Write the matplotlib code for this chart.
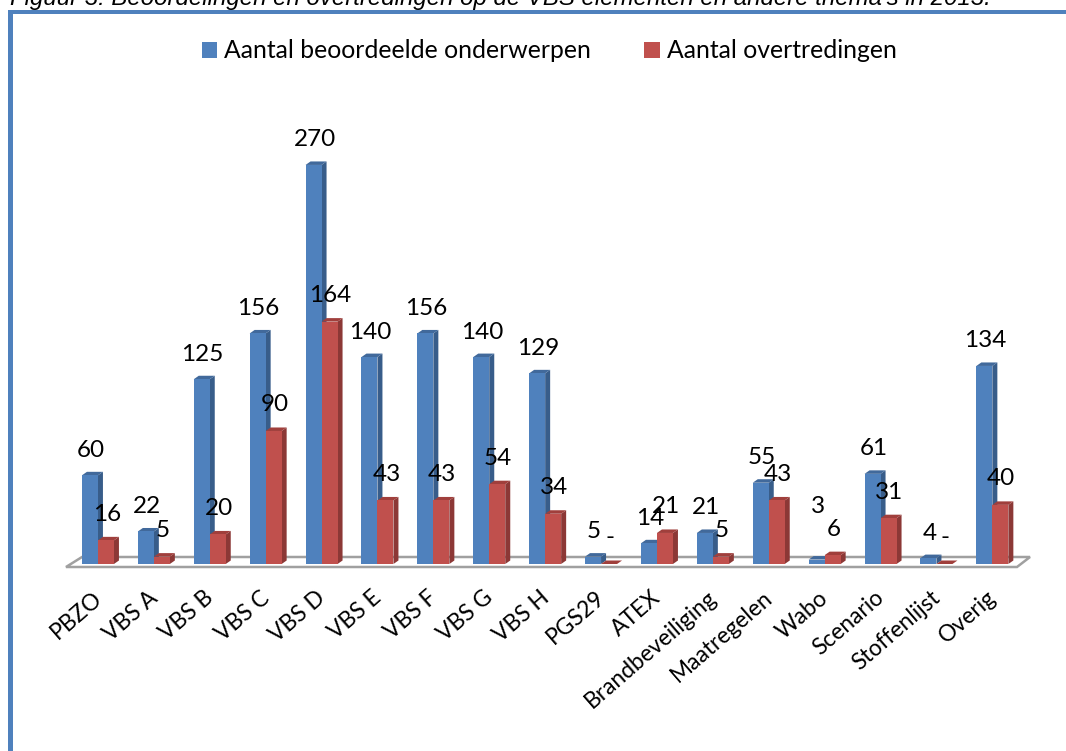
import matplotlib
matplotlib.use("Agg")
import matplotlib.pyplot as plt
from matplotlib.patches import Polygon, Rectangle

categories = ["PBZO", "VBS A", "VBS B", "VBS C", "VBS D", "VBS E", "VBS F", "VBS G", "VBS H",
              "PGS29", "ATEX", "Brandbeveiliging", "Maatregelen", "Wabo", "Scenario",
              "Stoffenlijst", "Overig"]
beoordeeld = [60, 22, 125, 156, 270, 140, 156, 140, 129, 5, 14, 21, 55, 3, 61, 4, 134]
overtreding = [16, 5, 20, 90, 164, 43, 43, 54, 34, 0, 21, 5, 43, 6, 31, 0, 40]
overtreding_labels = ["16", "5", "20", "90", "164", "43", "43", "54", "34", "-", "21", "5", "43",
                      "6", "31", "-", "40"]

W, H = 1066, 751
PX_X = 55.9
PX_Y = 1.478
BASE = 564
LEFT = 70.0
TOP = 100
BLUE = ("#4F81BD", "#385D8A", "#41699B")
RED = ("#C0504D", "#8C3836", "#A03F3C")
FONT = "Lato"

fig = plt.figure(figsize=(W / 100, H / 100), dpi=100, facecolor="white")
ax = fig.add_axes([LEFT / W, 1 - BASE / H, 17 * PX_X / W, (BASE - TOP) / H])
ax.set_xlim(-0.5, 16.5)
ax.set_ylim(0, (BASE - TOP) / PX_Y)
ax.axis("off")

DX, DY = 5 / PX_X, 3.5 / PX_Y
BW = 16 / PX_X

# floor of the 3D chart
fl, fr = (66 - LEFT) / PX_X - 0.5, (1017 - LEFT) / PX_X - 0.5
bl, br = (82 - LEFT) / PX_X - 0.5, (1030 - LEFT) / PX_X - 0.5
ax.add_patch(Polygon([(fl, -3 / PX_Y), (fr, -3 / PX_Y), (br, 7 / PX_Y), (bl, 7 / PX_Y)],
                     closed=True, fc="white", ec="#A0A0A0", lw=1.8, clip_on=False, zorder=1))


def bar3d(x, v, cols, z):
    x0, x1 = x, x + BW
    ax.add_patch(Polygon([(x1, 0), (x1 + DX, DY), (x1 + DX, v + DY), (x1, v)], closed=True,
                         fc=cols[1], ec="none", clip_on=False, zorder=z))
    ax.add_patch(Polygon([(x0, v), (x0 + DX, v + DY), (x1 + DX, v + DY), (x1, v)], closed=True,
                         fc=cols[2], ec="none", clip_on=False, zorder=z))
    ax.add_patch(Rectangle((x0, 0), BW, v, fc=cols[0], ec="none", clip_on=False, zorder=z + 0.1))


for i, (a, b) in enumerate(zip(beoordeeld, overtreding)):
    bar3d(i - BW, a, BLUE, 3 + i)
    bar3d(i, b, RED, 3.5 + i)

# data labels
for i, (a, b, lab) in enumerate(zip(beoordeeld, overtreding, overtreding_labels)):
    extra = 28 if categories[i] == "Wabo" else 0
    ax.annotate(str(a), (i - BW / 2, a), xytext=(0.7, (25 + extra) * 0.72), textcoords="offset points",
                ha="center", va="center", fontsize=17.5, family=FONT, color="black", zorder=50,
                annotation_clip=False)
    ax.annotate(lab, (i + BW / 2, b), xytext=(0.7, 26 * 0.72), textcoords="offset points",
                ha="center", va="center", fontsize=17.5, family=FONT, color="black", zorder=50,
                annotation_clip=False)

# category labels
ax.set_xticks(range(len(categories)))
for i, c in enumerate(categories):
    ax.annotate(c, (i, 0), xytext=(-6 * 0.72, -23 * 0.72), textcoords="offset points", rotation=41,
                rotation_mode="anchor", ha="right", va="top", fontsize=16.4, family=FONT,
                color="black", annotation_clip=False)

# legend
handles = [Rectangle((0, 0), 1, 1, fc=BLUE[0]), Rectangle((0, 0), 1, 1, fc=RED[0])]
fig.legend(handles, ["Aantal beoordeelde onderwerpen", "Aantal overtredingen"], ncol=2,
           loc="center", bbox_to_anchor=(549 / W, 1 - 51 / H), frameon=False,
           prop={"family": FONT, "size": 17.8}, handlelength=0.64, handleheight=0.64,
           handletextpad=0.28, columnspacing=2.13, borderpad=0)

# frame and caption
fig.add_artist(Rectangle((8 / W, 0), 5 / W, 1 - 10 / H, transform=fig.transFigure, fc="#4F81BD", ec="none"))
fig.add_artist(Rectangle((8 / W, 1 - 14 / H), 1 - 8 / W, 4 / H, transform=fig.transFigure, fc="#4F81BD", ec="none"))
fig.text(10 / W, 1 - 5 / H, "Figuur 3: Beoordelingen en overtredingen op de VBS elementen en andere thema's in 2013.",
         family="Liberation Sans", style="italic", fontsize=17.3, va="baseline", color="black")

fig.savefig("out.png", dpi=100)
